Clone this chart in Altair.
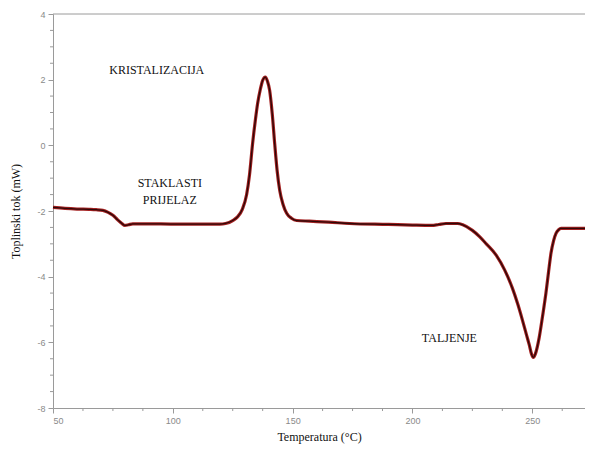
import altair as alt
import pandas as pd

# Curve: temperature (°C) and heat flow (mW)
temp = [50, 55, 60, 65, 68, 70.8, 73, 75, 77, 78.75, 80, 81.5, 83.3, 90, 100, 110,
        119.6, 122, 125, 127, 129, 130.8, 132, 133.3, 134.5, 135.4, 136.5, 137.5,
        138.6, 139.5, 140.4, 141.5, 142.5, 143.5, 144.6, 146, 147.5, 149.5, 151.7,
        157, 165, 173.75, 190, 200, 208, 211, 214, 218.75, 221, 225, 228, 230.8,
        235, 238.5, 241.7, 244, 245.8, 247.5, 248.75, 249.7, 250.4, 251.3, 252.9,
        254.3, 255.7, 256.8, 257.8, 258.9, 259.9, 261, 262, 268, 272]
flow = [-1.89, -1.92, -1.94, -1.95, -1.96, -1.98, -2.04, -2.13, -2.27, -2.38, -2.44,
        -2.42, -2.39, -2.39, -2.40, -2.40, -2.40, -2.38, -2.29, -2.18, -1.95, -1.5,
        -0.9, 0.06, 0.8, 1.28, 1.7, 1.98, 2.08, 1.95, 1.68, 0.95, 0.06, -0.75, -1.37,
        -1.8, -2.07, -2.22, -2.29, -2.31, -2.34, -2.38, -2.41, -2.43, -2.44, -2.41,
        -2.38, -2.38, -2.42, -2.59, -2.78, -3.0, -3.35, -3.8, -4.35, -4.85, -5.3, -5.75,
        -6.08, -6.36, -6.46, -6.35, -5.85, -5.2, -4.5, -3.85, -3.29, -2.9, -2.68,
        -2.57, -2.53, -2.53, -2.53]

# Annotations
ann_text = ["KRISTALIZACIJA", "STAKLASTI", "PRIJELAZ", "TALJENJE"]
ann_x = [93.3, 98.75, 98.75, 215.4]
ann_y = [2.29, -1.16, -1.68, -5.88]

# Axis ticks
x_major = [50, 100, 150, 200, 250]
y_major = [-8, -6, -4, -2, 0, 2, 4]
x_minor = [62.5, 75, 87.5, 112.5, 125, 137.5, 162.5, 175, 187.5, 212.5, 225, 237.5, 262.5]
y_minor = [-7.5, -7, -6.5, -5.5, -5, -4.5, -3.5, -3, -2.5, -1.5, -1, -0.5,
           0.5, 1, 1.5, 2.5, 3, 3.5]

X_DOMAIN = [50, 272]
Y_DOMAIN = [-8, 4]
W, H = 532, 394

df = pd.DataFrame({"t": temp, "q": flow})
ann = pd.DataFrame({"label": ann_text, "x": ann_x, "y": ann_y})
xm = pd.DataFrame({"v": x_minor})
ym = pd.DataFrame({"v": y_minor})

neg_expr = "datum.value < 0 ? '-' + abs(datum.value) : '' + datum.value"

xscale = alt.Scale(domain=X_DOMAIN, nice=False, zero=False)
yscale = alt.Scale(domain=Y_DOMAIN, nice=False, zero=False)

xenc = alt.X("t:Q", scale=xscale,
             axis=alt.Axis(values=x_major, title="Temperatura (°C)", labelExpr=neg_expr,
                           titlePadding=6))
yenc = alt.Y("q:Q", scale=yscale,
             axis=alt.Axis(values=y_major, title="Toplinski tok (mW)", labelExpr=neg_expr,
                           titlePadding=14))

base = alt.Chart(df)
halo = base.mark_line(color="#a32020", strokeWidth=3.2, interpolate="monotone").encode(x=xenc, y=yenc)
core = base.mark_line(color="#2e0808", strokeWidth=1.3, interpolate="monotone").encode(
    x=alt.X("t:Q", scale=xscale), y=alt.Y("q:Q", scale=yscale))

top = alt.Chart(pd.DataFrame({"v": [Y_DOMAIN[1]]})).mark_rule(color="#9a9a9a", strokeWidth=1).encode(
    y=alt.Y("v:Q", scale=yscale))

ymin = alt.Chart(ym).mark_rule(color="#9a9a9a", strokeWidth=1).encode(
    y=alt.Y("v:Q", scale=yscale), x=alt.value(-3), x2=alt.value(0))
xmin = alt.Chart(xm).mark_rule(color="#9a9a9a", strokeWidth=1).encode(
    x=alt.X("v:Q", scale=xscale), y=alt.value(H), y2=alt.value(H + 3))

labels = alt.Chart(ann).mark_text(font="Liberation Serif", fontSize=12, color="#111111",
                                  align="center", baseline="middle").encode(
    x=alt.X("x:Q", scale=xscale), y=alt.Y("y:Q", scale=yscale), text="label:N")

chart = alt.layer(top, ymin, xmin, halo, core, labels).properties(
    width=W, height=H, autosize="none",
    padding={"left": 45, "top": 6, "right": 0, "bottom": 38},
    background="white",
).configure_view(stroke=None).configure_axis(
    grid=False, domainColor="#9a9a9a", tickColor="#9a9a9a", tickSize=5,
    labelColor="#8a8a8a", labelFont="Liberation Sans", labelFontSize=9,
    titleFont="Liberation Serif", titleFontSize=12, titleFontWeight="normal",
    titleColor="#111111", labelPadding=3,
)

chart.save("out.html", embed_options={"renderer": "svg", "actions": False})
